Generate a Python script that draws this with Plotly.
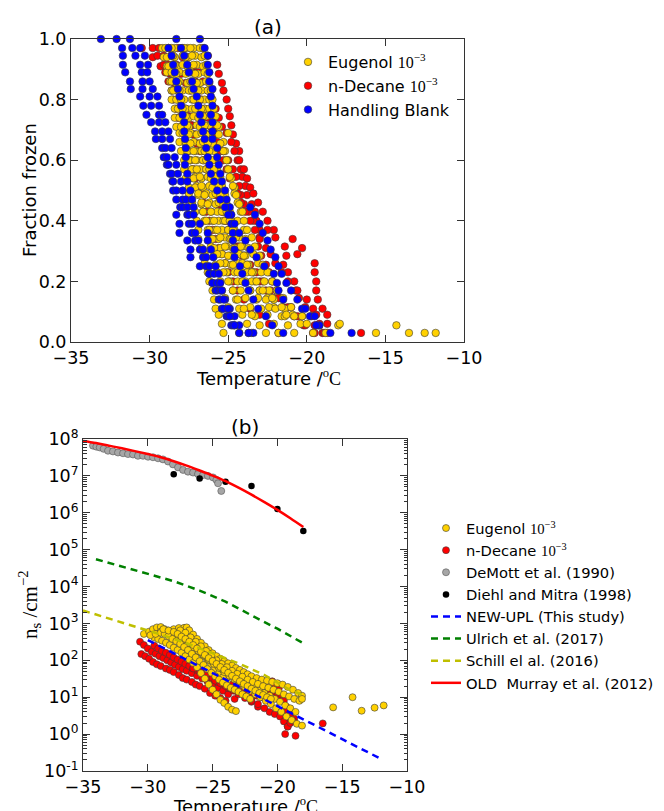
import plotly.graph_objects as go

# ---------------- Panel (a): fraction frozen vs temperature ----------------
# fraction-frozen levels of the 10^-3 suspension runs (top to bottom); two
# droplet arrays with slightly different droplet counts
LIQ_FRAC_LEVELS = [0.97, 0.94, 0.91, 0.89, 0.86, 0.83, 0.80, 0.77, 0.74, 0.71,
                   0.69, 0.66, 0.63, 0.60, 0.57, 0.54, 0.51, 0.49, 0.46, 0.43,
                   0.40, 0.37, 0.34, 0.31, 0.29, 0.26, 0.23, 0.20, 0.17, 0.14,
                   0.11, 0.09, 0.06, 0.03]
LIQ_FRAC_LEVELS_ALT = [0.97, 0.945, 0.915, 0.885, 0.855, 0.83, 0.80, 0.77, 0.745, 0.715,
                       0.685, 0.655, 0.63, 0.60, 0.57, 0.545, 0.515, 0.485, 0.455, 0.43,
                       0.40, 0.37, 0.345, 0.315, 0.285, 0.255, 0.23, 0.20, 0.17, 0.145,
                       0.115, 0.085, 0.055, 0.03]

# fraction-frozen levels of the handling-blank runs
BLANK_FRAC_LEVELS = [1.00, 0.97, 0.945, 0.915, 0.89, 0.86, 0.835, 0.81, 0.78, 0.75,
                     0.725, 0.695, 0.67, 0.64, 0.61, 0.585, 0.555, 0.53, 0.50, 0.47,
                     0.445, 0.42, 0.39, 0.36, 0.335, 0.305, 0.28, 0.25, 0.225, 0.195,
                     0.17, 0.14, 0.11, 0.085, 0.055, 0.03]

# freezing temperatures (degC) of each Eugenol run, one value per fraction level
eugenol_run_temps = [
    [-29.2, -29.1, -28.9, -28.9, -28.7, -28.6, -28.6, -28.4, -28.4, -28.3,
     -28.1, -28.1, -28.0, -27.8, -27.8, -27.7, -27.5, -27.5, -27.3, -27.1,
     -27.0, -26.9, -26.9, -26.7, -26.5, -26.5, -26.3, -26.2, -26.0, -25.9,
     -25.8, -25.6, -25.4, -25.3],
    [-28.8, -28.6, -28.6, -28.5, -28.3, -28.3, -28.2, -28.0, -28.0, -27.9,
     -27.7, -27.7, -27.5, -27.4, -27.3, -27.1, -27.0, -26.9, -26.7, -26.6,
     -26.5, -26.3, -26.2, -26.1, -25.9, -25.8, -25.7, -25.5, -25.4, -25.2,
     -25.0, -24.9, -24.6, -24.3],
    [-28.4, -28.4, -28.2, -28.1, -28.1, -27.9, -27.8, -27.7, -27.5, -27.5,
     -27.4, -27.2, -27.1, -27.0, -26.8, -26.7, -26.6, -26.4, -26.2, -26.1,
     -26.0, -25.8, -25.6, -25.5, -25.4, -25.2, -25.1, -24.9, -24.7, -24.5,
     -24.3, -24.1, -23.8, -23.5],
    [-28.0, -27.9, -27.9, -27.7, -27.6, -27.5, -27.3, -27.3, -27.2, -27.0,
     -27.0, -26.8, -26.7, -26.6, -26.4, -26.3, -26.2, -26.0, -25.8, -25.7,
     -25.6, -25.4, -25.2, -25.1, -24.9, -24.8, -24.6, -24.4, -24.2, -23.9,
     -23.6, -23.3, -23.0, -22.6],
    [-27.6, -27.5, -27.4, -27.4, -27.2, -27.1, -27.0, -26.8, -26.8, -26.7,
     -26.5, -26.5, -26.3, -26.1, -26.1, -25.9, -25.8, -25.6, -25.5, -25.3,
     -25.3, -25.0, -24.9, -24.7, -24.4, -24.3, -24.1, -23.9, -23.6, -23.2,
     -22.9, -22.5, -22.1, -21.8],
    [-27.2, -27.1, -27.0, -26.9, -26.8, -26.7, -26.5, -26.5, -26.4, -26.2,
     -26.2, -26.0, -25.9, -25.8, -25.7, -25.5, -25.4, -25.2, -25.1, -24.9,
     -24.8, -24.6, -24.3, -24.1, -23.9, -23.7, -23.4, -23.3, -23.0, -22.5,
     -22.1, -21.6, -21.2, -20.8],
    [-26.8, -26.7, -26.6, -26.5, -26.4, -26.3, -26.2, -26.2, -25.9, -25.6,
     -25.0, -25.3, -25.2, -25.1, -25.0, -24.8, -24.6, -24.6, -24.4, -24.2,
     -24.4, -24.0, -23.9, -23.7, -23.4, -23.1, -22.9, -22.7, -22.4, -22.1,
     -21.4, -20.9, -20.4, -19.6],
    [-26.6, -26.5, -26.4, -26.3, -26.2, -26.1, -26.0, -25.9, -25.8, -25.7,
     -25.6, -25.5, -25.3, -25.1, -25.0, -24.9, -24.7, -24.5, -24.3, -24.1,
     -24.0, -23.8, -23.5, -23.3, -23.0, -22.8, -22.5, -22.2, -21.9, -21.5,
     -21.0, -20.3, -18.0, -15.6],
    [-29.0, -28.9, -28.8, -28.6, -28.6, -28.5, -28.3, -28.2, -28.1, -28.0,
     -27.9, -27.7, -27.6, -27.5, -27.3, -27.2, -27.1, -26.9, -26.7, -26.6,
     -26.4, -26.2, -26.0, -25.9, -25.7, -25.5, -25.3, -25.0, -24.7, -24.4,
     -24.0, -23.5, -17.9, -13.5],
    [-28.6, -28.5, -28.4, -28.3, -28.2, -28.1, -28.0, -27.9, -27.7, -27.6,
     -27.5, -27.4, -27.2, -27.1, -27.0, -26.8, -26.7, -26.5, -26.3, -26.1,
     -25.9, -25.7, -25.5, -25.2, -25.0, -24.7, -24.4, -24.1, -23.6, -23.1,
     -22.4, -21.4, -14.3, -12.5],
    [-27.8, -27.7, -27.6, -27.5, -27.4, -27.3, -27.2, -27.1, -26.9, -26.8,
     -26.7, -26.6, -26.5, -26.4, -26.2, -26.1, -26.0, -25.8, -25.6, -25.4,
     -25.2, -25.0, -24.8, -24.6, -24.3, -24.1, -23.8, -23.5, -23.0, -22.6,
     -22.0, -21.3, -20.0, -11.8],
    [-27.4, -27.3, -27.2, -27.1, -27.0, -26.9, -26.8, -26.7, -26.6, -26.5,
     -26.4, -26.3, -26.2, -26.0, -25.9, -25.8, -25.6, -25.5, -25.3, -25.1,
     -24.9, -24.7, -24.5, -24.2, -24.0, -23.8, -23.5, -23.2, -22.8, -22.2,
     -21.6, -20.8, -19.2, -18.8],
]

# freezing temperatures (degC) of each n-Decane run
decane_run_temps = [
    [-26.6, -26.3, -25.7, -25.6, -25.4, -25.3, -25.1, -25.0, -24.9, -24.8,
     -24.7, -24.5, -24.3, -24.4, -24.2, -24.1, -23.9, -23.8, -23.5, -23.3,
     -23.2, -23.0, -23.0, -23.1, -22.9, -22.6, -22.4, -22.2, -21.9, -21.7,
     -21.0, -20.3, -19.5, -18.7],
    [-27.9, -27.6, -27.2, -26.9, -26.6, -26.3, -26.1, -25.8, -25.6, -25.4,
     -25.1, -24.8, -24.6, -24.3, -24.0, -23.8, -23.6, -23.4, -23.1, -22.8,
     -22.5, -22.1, -20.9, -20.3, -20.6, -19.5, -19.5, -19.4, -19.4, -19.3,
     -19.0, -18.7, -18.7, -16.55],
    [-28.8, -28.6, -28.3, -28.0, -27.7, -27.4, -27.1, -26.8, -26.5, -26.2,
     -25.9, -25.6, -25.3, -25.0, -24.7, -24.5, -24.3, -24.2, -24.0, -23.7,
     -23.4, -22.5, -22.0, -21.4, -21.3, -21.5, -21.2, -20.8, -20.7, -20.5,
     -20.1, -19.7, -19.3, -19.0],
    [-30.5, -29.8, -29.3, -29.0, -28.8, -28.6, -28.5, -28.3, -28.2, -28.0,
     -27.9, -27.7, -27.6, -27.4, -27.2, -27.1, -26.9, -26.7, -26.6, -26.4,
     -26.2, -26.0, -25.8, -25.6, -25.4, -25.2, -25.0, -24.7, -24.4, -24.0,
     -23.6, -23.0, -22.4, -21.8],
    [-29.8, -29.5, -29.1, -28.7, -28.4, -28.1, -27.9, -27.7, -27.5, -27.3,
     -27.1, -26.9, -26.7, -26.5, -26.3, -26.1, -25.9, -25.7, -25.5, -25.3,
     -25.1, -24.9, -24.6, -24.4, -24.1, -23.8, -23.4, -23.0, -22.6, -22.1,
     -21.5, -20.8, -20.2, -19.6],
    [-28.2, -27.9, -27.6, -27.3, -27.1, -26.9, -26.7, -26.5, -26.3, -26.1,
     -25.9, -25.7, -25.5, -25.3, -25.1, -24.9, -24.6, -24.4, -24.2, -23.9,
     -23.6, -23.3, -23.0, -22.6, -22.3, -22.0, -21.6, -21.2, -20.6, -20.0,
     -19.6, -19.4, -19.2, -18.9],
    [-29.4, -29.1, -28.8, -28.6, -28.4, -28.2, -28.0, -27.8, -27.6, -27.4,
     -27.2, -27.0, -26.8, -26.6, -26.4, -26.2, -26.0, -25.8, -25.6, -25.4,
     -25.2, -24.9, -24.6, -24.3, -24.0, -23.6, -23.2, -22.8, -22.3, -21.8,
     -21.2, -20.6, -20.1, -19.5],
]

# freezing temperatures (degC) of each handling-blank run (None = no droplet)
blank_run_temps = [
    [-33.1, -31.75, -31.7, -31.7, -31.55, -31.25, -31.2, -30.6, -30.4, -30.2,
     -29.9, -29.65, -29.6, -29.2, -29.1, -28.9, -28.7, -28.55, -28.5, -28.3,
     -28.05, -28.3, -28.1, -28.1, -27.6, -27.4, -27.4, -26.8, -26.2, -26.0,
     -25.8, -25.6, -25.4, -25.1, -24.8, -24.3],
    [-32.1, -31.1, -30.9, -30.6, -30.5, -30.45, -30.45, -30.0, -29.9, -29.4,
     -29.4, -29.2, -29.2, -29.0, -28.9, -28.8, -28.6, -28.5, -28.3, -27.9,
     -27.9, -27.6, -27.5, -27.3, -27.1, -26.8, -26.6, -26.4, -26.2, -26.0,
     -25.7, -25.5, -25.3, -25.0, -24.7, -23.7],
    [-31.25, -30.6, -30.3, -30.1, -30.15, -30.0, -29.8, -29.5, -29.4, -29.2,
     -29.0, -28.8, -28.7, -28.6, -28.4, -28.3, -28.2, -28.0, -27.9, -27.7,
     -27.6, -27.5, -27.3, -27.1, -26.9, -26.6, -26.4, -26.2, -25.9, -25.7,
     -25.5, -25.2, -24.9, -24.6, -24.3, -23.4],
    [-26.8, -26.5, -26.3, -26.3, -26.2, -26.2, -26.0, -26.1, -26.0, -26.1,
     -26.0, -26.0, -26.0, -25.7, -25.7, -25.6, -25.5, -25.4, -25.2, -25.1,
     -24.9, -24.8, -24.8, -24.7, -24.7, -24.6, -24.6, -24.25, -24.1, -23.9,
     -23.7, -23.4, -23.1, -22.6, -22.2, -21.5],
    [-28.3, -28.0, -27.8, -27.6, -27.5, -27.3, -27.2, -27.0, -26.9, -26.8,
     -26.7, -26.6, -26.5, -26.4, -26.3, -26.2, -26.1, -25.9, -25.7, -25.5,
     -25.2, -25.0, -24.6, -24.3, -23.9, -23.6, -23.2, -22.7, -22.1, -21.9,
     -21.8, -21.5, -20.3, -19.8, -19.2, -18.5],
    [None, -28.8, -28.6, -28.5, -28.4, -28.3, -28.2, -28.1, -28.0, -27.9,
     -27.8, -27.8, -27.75, -27.7, -27.7, -27.75, -27.6, -27.6, -27.4, -27.3,
     -27.2, -27.2, -26.8, -26.3, -26.3, -26.1, -25.95, -25.8, -25.6, -25.5,
     -25.4, -25.3, -25.0, -24.9, -24.6, -23.7],
    [None, None, None, None, None, None, None, None, None, None,
     None, None, None, None, None, None, None, None, None, None,
     -23.6, -23.3, -23.0, -22.8, -22.5, -22.3, -22.0, -21.8, -21.6, -21.3,
     -21.0, -20.6, -20.1, -19.5, -19.4, -17.15],
]

# ---------------- Panel (b): ice-active site density ----------------
eugenol_ns_temps = [
    [-30.3, -29.9, -29.6, -29.3, -29.0, -28.7, -28.4, -28.1, -27.8, -27.5, -27.2,
     -26.9, -26.6, -26.3, -26.0, -25.7, -25.4, -25.1, -24.8, -24.5, -24.2, -23.9],
    [-29.5, -29.2, -28.9, -28.6, -28.3, -28.0, -27.7, -27.4, -27.1, -26.8, -26.5,
     -26.2, -25.9, -25.6, -25.3, -25.0, -24.7, -24.4, -24.1, -23.8, -23.5, -23.2],
    [-28.0, -27.6, -27.2, -27.0, -26.8, -26.5, -26.2, -25.9, -25.6, -25.3, -25.0,
     -24.7, -24.4, -24.1, -23.8, -23.5, -23.2, -22.9, -22.6, -22.3, -22.0, -21.6,
     -21.2, -20.8, -20.4, -20.0, -19.6, -19.2, -18.8, -18.4, -18.1],
    [-29.0, -28.6, -28.2, -27.8, -27.4, -27.0, -26.6, -26.2, -25.8, -25.4, -25.0,
     -24.6, -24.2, -23.8, -23.4, -23.0, -22.6, -22.2, -21.8, -21.4, -21.0, -20.6,
     -20.2, -19.8, -19.4, -19.0, -18.6],
    [-28.5, -28.1, -27.7, -27.3, -26.9, -26.5, -26.1, -25.7, -25.3, -24.9, -24.5,
     -24.1, -23.7, -23.3, -22.9, -22.5, -22.1, -21.7, -21.3, -20.9, -20.5, -20.1,
     -19.7, -19.3, -18.9, -18.5, -18.1],
    [-27.5, -27.1, -26.7, -26.3, -25.9, -25.5, -25.1, -24.7, -24.3, -23.9, -23.5,
     -23.1, -22.7, -22.3, -21.9, -21.5, -21.1, -20.7, -20.3, -19.9, -19.5, -19.1,
     -18.7, -18.3],
    [-29.8, -29.4, -29.0, -28.7, -28.4, -28.1, -27.8, -27.5, -27.2, -26.9, -26.6,
     -26.3, -26.0, -25.7, -25.4, -25.1, -24.8, -24.5, -24.2, -23.9, -23.6, -23.3,
     -23.0, -22.7, -22.4, -22.1],
    [-28.8, -28.4, -28.0, -27.7, -27.4, -27.1, -26.8, -26.5, -26.2, -25.9, -25.6,
     -25.3, -25.0, -24.7, -24.4, -24.1, -23.8, -23.5, -23.2, -22.9, -22.6, -22.3,
     -22.0, -21.7, -21.4, -21.1, -20.8, -20.5],
    [-18.1, -15.7, -14.2, -13.5, -12.5, -11.8],
]
eugenol_ns = [
    [520, 600, 700, 780, 800, 700, 640, 580, 520, 460, 400,
     340, 280, 220, 170, 130, 100, 78, 60, 45, 35, 27],
    [420, 380, 340, 300, 260, 220, 190, 160, 130, 105, 85,
     65, 45, 32, 22, 16, 12, 8.5, 7.0, 5.5, 4.6, 4.2],
    [700, 750, 760, 780, 650, 500, 380, 300, 240, 190, 155,
     130, 110, 95, 83, 72, 62, 55, 48, 42, 37, 33,
     30, 28, 26, 24, 22, 19, 16, 13, 11],
    [600, 550, 500, 430, 360, 300, 240, 190, 150, 115, 90,
     70, 55, 44, 36, 30, 25, 21, 18, 15, 13, 11,
     9.0, 7.5, 6.0, 5.0, 4.0],
    [560, 500, 430, 360, 290, 230, 180, 140, 105, 80, 62,
     48, 38, 30, 24, 19, 15, 12, 10, 8.0, 6.5, 5.0,
     4.0, 3.0, 2.4, 1.9, 1.7],
    [650, 560, 420, 320, 240, 180, 135, 100, 80, 65, 52,
     43, 36, 30, 26, 23, 20, 18, 16, 14, 12, 10.5,
     9.0, 8.0],
    [480, 520, 560, 520, 450, 380, 330, 280, 230, 190, 150,
     120, 95, 75, 58, 46, 37, 30, 25, 21, 18, 16,
     14, 12, 10.5, 9.0],
    [700, 640, 590, 520, 440, 380, 320, 260, 210, 170, 140,
     115, 96, 80, 66, 55, 46, 38, 32, 27, 23, 20,
     17, 15, 13, 11.5, 10, 9.0],
    [9.0, 5.3, 10.0, 4.3, 5.2, 6.0],
]

decane_ns_temps = [
    [-30.5, -30.2, -29.9, -29.6, -29.3, -29.0, -28.6, -28.3, -28.0, -27.6,
     -27.3, -27.0, -26.6, -26.3, -26.0, -25.6, -25.2, -24.8, -24.4, -24.0],
    [-30.6, -30.3, -30.0, -29.7, -29.4, -29.1, -28.8, -28.5, -28.2, -27.9, -27.6,
     -27.3, -27.0, -26.6, -26.2, -25.8, -25.4, -25.0, -24.6, -24.2, -23.8, -23.3],
    [-29.5, -29.2, -28.9, -28.6, -28.3, -28.0, -27.7, -27.4, -27.1, -26.8, -26.5, -26.2,
     -25.9, -25.6, -25.3, -25.0, -24.6, -24.2, -23.8, -23.4, -23.0, -22.5, -22.0, -21.5],
    [-26.5, -26.0, -25.5, -25.0, -24.5, -24.0, -23.5, -23.0, -22.5, -22.0,
     -21.6, -21.2, -20.8, -20.4, -20.0, -19.6, -19.3, -19.0, -18.7],
    [-24.8, -24.4, -24.0, -23.6, -23.2, -22.8, -22.4, -22.0, -21.6, -21.2,
     -20.8, -20.4, -20.2, -19.9, -19.7, -19.5, -19.4, -19.3, -19.2],
    [-22.5, -22.0, -21.5, -21.0, -20.6, -20.2, -19.8, -19.5, -19.4, -19.2,
     -19.0, -18.8, -18.6, -16.5],
]
decane_ns = [
    [148, 130, 110, 90, 78, 70, 60, 55, 48, 40,
     33, 30, 26, 22, 20, 17, 13, 11, 9.5, 8.0],
    [320, 260, 210, 170, 150, 130, 115, 100, 88, 76, 66,
     58, 52, 45, 38, 32, 27, 22, 18, 15, 12, 9.0],
    [250, 210, 180, 160, 140, 120, 105, 92, 80, 70, 62, 55,
     48, 42, 36, 31, 26, 22, 18, 15, 12, 9.5, 7.5, 5.5],
    [60, 48, 40, 33, 28, 25, 22, 22, 24, 30,
     28, 22, 18, 14, 11, 8.0, 5.5, 3.5, 2.6],
    [28, 24, 20, 17, 15, 14, 13, 12, 11, 10,
     14, 27, 22, 17, 12, 8.0, 4.5, 2.2, 1.6],
    [12, 8.0, 6.5, 5.0, 4.0, 3.5, 3.0, 2.2, 1.0, 1.6,
     2.0, 2.3, 0.9, 1.95],
]

demott_temp = [-34.23, -33.97, -33.71, -33.41, -33.07, -32.69, -32.30, -31.91, -31.53, -31.14,
               -30.76, -30.37, -29.98, -29.60, -29.21, -28.83, -28.44, -28.06, -27.67, -27.28,
               -26.90, -26.51, -26.13, -25.74, -25.36, -24.97, -24.71, -24.58, -24.33]
demott_ns = [6.6e7, 6.2e7, 5.9e7, 5.4e7, 4.8e7, 4.6e7, 4.3e7, 4.1e7, 3.9e7, 3.8e7,
             3.5e7, 3.5e7, 3.3e7, 3.2e7, 3.0e7, 2.8e7, 2.45e7, 2.05e7, 1.7e7, 1.45e7,
             1.3e7, 1.23e7, 1.12e7, 1.05e7, 1.0e7, 9.1e6, 7.8e6, 6.3e6, 3.9e6]

diehl_temp = [-28.0, -26.0, -24.0, -22.0, -20.0, -18.0]
diehl_ns = [1.1e7, 8.5e6, 6.9e6, 5.3e6, 1.26e6, 3.2e5]

newupl_temp = [-30.0, -26.0, -22.0, -18.0, -14.0, -12.2]
newupl_ns = [355, 68, 12.9, 2.5, 0.48, 0.23]

ulrich_temp = [-34.0, -32.0, -30.0, -28.0, -26.0, -24.0, -22.0, -20.0, -18.0]
ulrich_ns = [5.5e4, 3.5e4, 2.2e4, 1.4e4, 7.8e3, 3.9e3, 1.66e3, 720, 290]

schill_temp = [-35.0, -33.0, -31.0, -29.0, -27.0, -25.0, -23.0, -21.0, -19.0, -18.0]
schill_ns = [2240, 1380, 830, 500, 290, 158, 83, 40, 15.5, 11.5]

murray_temp = [-35, -34, -33, -32, -31, -30, -29, -28, -27, -26,
               -25, -24, -23, -22, -21, -20, -19, -18]
murray_ns = [8.9e7, 7.8e7, 6.6e7, 5.6e7, 4.7e7, 3.9e7, 3.2e7, 2.5e7, 1.9e7, 1.4e7,
             1.02e7, 7.2e6, 4.8e6, 3.1e6, 1.95e6, 1.2e6, 7.1e5, 4.1e5]

DECADE_EXPONENTS = [-1, 0, 1, 2, 3, 4, 5, 6, 7, 8]
TEMP_TICKS = [-35, -30, -25, -20, -15, -10]

# ---------------- styling ----------------
W, H = 664, 811
SANS = "DejaVu Sans"
SERIF = "Liberation Serif"
YELLOW = "#FFD100"
RED = "#FF0000"
BLUE = "#0000FF"
EDGE = "#3a3a3a"
AXIS_COLOR = "#333333"
TICK_FONT = dict(family=SANS, size=17.5, color="black")

MATH_E3 = f'<span style="font-family:{SERIF}">10<sup>−3</sup></span>'
TEMP_LABEL = f'Temperature /<span style="font-family:{SERIF}"><sup>o</sup>C</span>'


def px_x(px):
    return px / W


def px_y(py):
    return 1 - py / H


def flatten_runs(runs, level_sets):
    """Pair each run's temperatures with its fraction levels (level sets cycle)."""
    xs, ys = [], []
    for i, run in enumerate(runs):
        levels = level_sets[i % len(level_sets)]
        for t, f in zip(run, levels):
            if t is not None:
                xs.append(t)
                ys.append(f)
    return xs, ys


def flatten_pairs(temps, values):
    xs, ys = [], []
    for tr, vr in zip(temps, values):
        xs.extend(tr)
        ys.extend(vr)
    return xs, ys


fig = go.Figure()

# panel (a)
dec_x, dec_y = flatten_runs(decane_run_temps, [LIQ_FRAC_LEVELS_ALT, LIQ_FRAC_LEVELS])
eug_x, eug_y = flatten_runs(eugenol_run_temps, [LIQ_FRAC_LEVELS, LIQ_FRAC_LEVELS_ALT])
blk_x, blk_y = flatten_runs(blank_run_temps, [BLANK_FRAC_LEVELS])

dot_a = dict(size=7.5, line=dict(width=0.6, color=EDGE))
fig.add_trace(go.Scatter(x=dec_x, y=dec_y, mode="markers", name="n-Decane " + MATH_E3,
                         marker=dict(color=RED, **dot_a), xaxis="x", yaxis="y",
                         legend="legend", legendrank=2, cliponaxis=False))
fig.add_trace(go.Scatter(x=eug_x, y=eug_y, mode="markers", name="Eugenol " + MATH_E3,
                         marker=dict(color=YELLOW, **dot_a), xaxis="x", yaxis="y",
                         legend="legend", legendrank=1, cliponaxis=False))
fig.add_trace(go.Scatter(x=blk_x, y=blk_y, mode="markers", name="Handling Blank",
                         marker=dict(color=BLUE, **dot_a), xaxis="x", yaxis="y",
                         legend="legend", legendrank=3, cliponaxis=False))

# panel (b)
dns_x, dns_y = flatten_pairs(decane_ns_temps, decane_ns)
ens_x, ens_y = flatten_pairs(eugenol_ns_temps, eugenol_ns)
dot_b = dict(size=7, line=dict(width=0.6, color=EDGE))

fig.add_trace(go.Scatter(x=dns_x, y=dns_y, mode="markers", name="n-Decane " + MATH_E3,
                         marker=dict(color=RED, **dot_b), xaxis="x2", yaxis="y2",
                         legend="legend2", legendrank=2))
fig.add_trace(go.Scatter(x=ens_x, y=ens_y, mode="markers", name="Eugenol " + MATH_E3,
                         marker=dict(color=YELLOW, **dot_b), xaxis="x2", yaxis="y2",
                         legend="legend2", legendrank=1))
fig.add_trace(go.Scatter(x=demott_temp, y=demott_ns, mode="markers", name="DeMott et al. (1990)",
                         marker=dict(color="#A6A6A6", size=7, line=dict(width=0.6, color="#555555")),
                         xaxis="x2", yaxis="y2", legend="legend2", legendrank=3))
fig.add_trace(go.Scatter(x=diehl_temp, y=diehl_ns, mode="markers", name="Diehl and Mitra (1998)",
                         marker=dict(color="black", size=6.5),
                         xaxis="x2", yaxis="y2", legend="legend2", legendrank=4))
dash = "7px,5px"
fig.add_trace(go.Scatter(x=newupl_temp, y=newupl_ns, mode="lines", name="NEW-UPL (This study)",
                         line=dict(color=BLUE, width=2.5, dash=dash),
                         xaxis="x2", yaxis="y2", legend="legend2", legendrank=5))
fig.add_trace(go.Scatter(x=ulrich_temp, y=ulrich_ns, mode="lines", name="Ulrich et al. (2017)",
                         line=dict(color="#008000", width=2.5, dash=dash),
                         xaxis="x2", yaxis="y2", legend="legend2", legendrank=6))
fig.add_trace(go.Scatter(x=schill_temp, y=schill_ns, mode="lines", name="Schill el al. (2016)",
                         line=dict(color="#BFBF00", width=2.5, dash=dash),
                         xaxis="x2", yaxis="y2", legend="legend2", legendrank=7))
fig.add_trace(go.Scatter(x=murray_temp, y=murray_ns, mode="lines", name="OLD\u00a0 Murray et al. (2012)",
                         line=dict(color=RED, width=2.5, shape="spline"),
                         xaxis="x2", yaxis="y2", legend="legend2", legendrank=8))

common_axis = dict(showline=True, linecolor=AXIS_COLOR, linewidth=1, mirror="allticks",
                   ticks="inside", ticklen=7, tickwidth=1, tickcolor=AXIS_COLOR,
                   showgrid=False, zeroline=False, tickfont=TICK_FONT, automargin=False)

minor_vals = [m * 10.0 ** k for k in DECADE_EXPONENTS[:-1] for m in range(2, 10)]

fig.update_layout(
    width=W, height=H,
    margin=dict(l=0, r=0, t=0, b=0, autoexpand=False),
    paper_bgcolor="white", plot_bgcolor="white",
    font=dict(family=SANS, color="black"),
    xaxis=dict(domain=[px_x(71), px_x(464)], range=[-35, -10], anchor="y",
               tickmode="array", tickvals=TEMP_TICKS, **common_axis),
    yaxis=dict(domain=[px_y(342), px_y(39)], range=[0, 1], anchor="x",
               tickmode="array", tickvals=[0, 0.2, 0.4, 0.6, 0.8, 1.0],
               ticktext=["0.0", "0.2", "0.4", "0.6", "0.8", "1.0"], **common_axis),
    xaxis2=dict(domain=[px_x(83), px_x(407)], range=[-35, -10], anchor="y2",
                tickmode="array", tickvals=TEMP_TICKS, **common_axis),
    yaxis2=dict(domain=[px_y(771), px_y(439)], type="log", range=[-1, 8], anchor="x2",
                tickmode="array", tickvals=[10.0 ** k for k in DECADE_EXPONENTS],
                ticktext=[f"10<sup>{k}</sup>" for k in DECADE_EXPONENTS],
                minor=dict(ticks="inside", ticklen=3.5, tickcolor=AXIS_COLOR,
                           tickmode="array", tickvals=minor_vals, showgrid=False),
                **common_axis),
    legend=dict(x=px_x(288), y=px_y(45), xanchor="left", yanchor="top",
                bgcolor="rgba(0,0,0,0)", borderwidth=0,
                font=dict(family=SANS, size=16, color="black")),
    legend2=dict(x=px_x(426), y=px_y(512), xanchor="left", yanchor="top",
                 bgcolor="rgba(0,0,0,0)", borderwidth=0,
                 font=dict(family=SANS, size=14.7, color="black")),
    showlegend=True,
)

ann_font = dict(family=SANS, size=18, color="black")


def label(x, y, text, font, angle=0):
    fig.add_annotation(x=px_x(x), y=px_y(y), xref="paper", yref="paper", text=text,
                       xanchor="center", yanchor="middle", textangle=angle,
                       showarrow=False, font=font)


label(268, 27, "(a)", dict(family=SANS, size=20, color="black"))
label(245, 427, "(b)", dict(family=SANS, size=20, color="black"))
label(29, 190, "Fraction frozen", ann_font, angle=-90)
label(268, 377, TEMP_LABEL, ann_font)
label(245, 805, TEMP_LABEL, ann_font)
label(29, 605, f'<span style="font-family:{SERIF}">n<sub>s</sub> /cm<sup>−2</sup></span>',
      dict(family=SERIF, size=21, color="black"), angle=-90)

fig.write_html("out.html")
